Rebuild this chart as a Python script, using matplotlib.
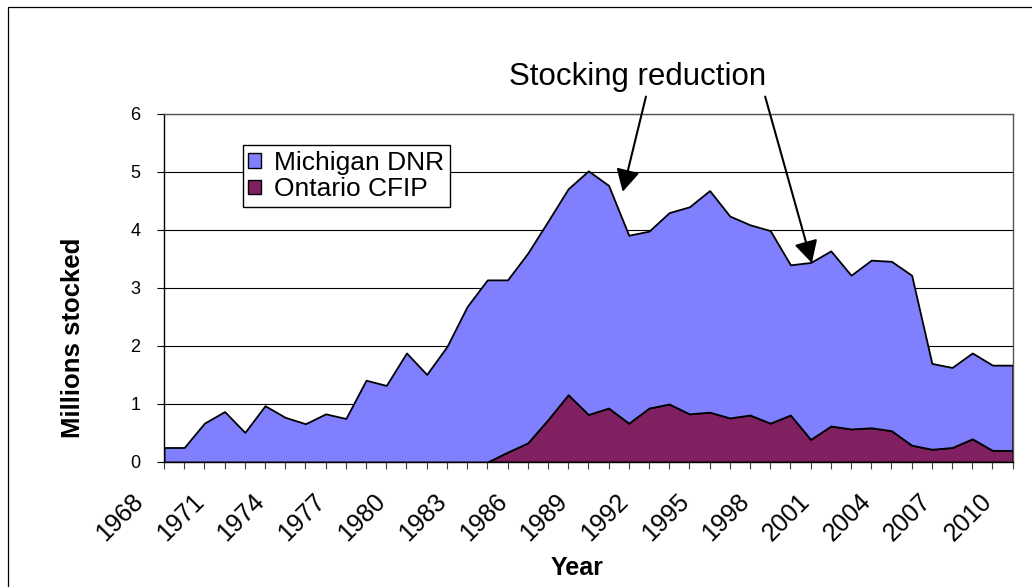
import numpy as np
import matplotlib
matplotlib.use("Agg")
import matplotlib.pyplot as plt
from matplotlib.patches import Rectangle, Patch
from matplotlib.transforms import ScaledTranslation

plt.rcParams['font.family'] = ['Liberation Sans', 'DejaVu Sans']

# ==================== data (millions stocked) ====================
years = list(range(1968, 2011))

ontario_cfip = [0.00, 0.00, 0.00, 0.00, 0.00, 0.00, 0.00, 0.00, 0.00, 0.00,
                0.00, 0.00, 0.00, 0.00, 0.00, 0.00, 0.00, 0.17, 0.33, 0.73,
                1.16, 0.82, 0.93, 0.67, 0.93, 1.00, 0.83, 0.86, 0.76, 0.81,
                0.67, 0.81, 0.39, 0.62, 0.57, 0.59, 0.54, 0.29, 0.22, 0.25,
                0.40, 0.20, 0.20]

michigan_dnr = [0.25, 0.25, 0.67, 0.87, 0.51, 0.97, 0.77, 0.66, 0.83, 0.75,
                1.41, 1.32, 1.88, 1.51, 1.99, 2.68, 3.14, 2.97, 3.27, 3.42,
                3.55, 4.20, 3.84, 3.24, 3.05, 3.30, 3.57, 3.82, 3.48, 3.28,
                3.32, 2.59, 3.05, 3.02, 2.65, 2.89, 2.92, 2.93, 1.48, 1.38,
                1.48, 1.47, 1.47]

series_names = ["Michigan DNR", "Ontario CFIP"]
yticks = [0, 1, 2, 3, 4, 5, 6]
label_years = years[::3]

c_mich = "#8080FF"
c_ont = "#802060"

# ==================== figure ====================
fig = plt.figure(figsize=(10.32, 5.87), dpi=100)
ax = fig.add_axes([164 / 1032, 1 - 462 / 587, (1012.7 - 164) / 1032, (462 - 114) / 587])

# chart area border (cut off at right and bottom)
fig.patches.append(Rectangle((8 / 1032, -0.2), 1.5, 1.2 - 7 / 587,
                             transform=fig.transFigure, fill=False,
                             edgecolor="black", linewidth=0.9, clip_on=False))

ax.set_axisbelow(True)
ax.yaxis.grid(True, color="black", linewidth=0.8)

ax.stackplot(years, ontario_cfip, michigan_dnr, colors=[c_ont, c_mich],
             edgecolor="black", linewidth=1.3)

ax.set_xlim(1968, 2010)
ax.set_ylim(0, 6)
ax.set_yticks(yticks)
ax.set_xticks(years)
ax.set_xticklabels([])

# rotated year labels, every third year
lab_tr = ax.get_xaxis_transform() + ScaledTranslation(-0.33, -0.27, fig.dpi_scale_trans)
for y in label_years:
    ax.text(y, 0, str(y), transform=lab_tr, rotation=45, rotation_mode="anchor",
            ha="right", va="top", fontsize=18)

ax.tick_params(axis="x", direction="out", length=5, width=0.8, color="#404040")
ax.tick_params(axis="y", direction="out", length=5, width=0.8, pad=12, labelsize=13)

for s in ["left", "bottom"]:
    ax.spines[s].set_color("black")
    ax.spines[s].set_linewidth(1.0)
for s in ["top", "right"]:
    ax.spines[s].set_color("#555555")
    ax.spines[s].set_linewidth(1.0)

ax.set_ylabel("Millions stocked", fontsize=18.5, fontweight="bold")
ax.yaxis.set_label_coords(-0.093, 0.356)
ax.set_xlabel("Year", fontsize=18, fontweight="bold")
ax.xaxis.set_label_coords(0.4866, -0.27)

# legend
handles = [Patch(facecolor=c_mich, edgecolor="black", linewidth=1.0),
           Patch(facecolor=c_ont, edgecolor="black", linewidth=1.0)]
leg = ax.legend(handles, series_names, loc="upper left",
                bbox_to_anchor=(0.0927, 0.911), borderaxespad=0,
                fontsize=19, handlelength=0.48, handleheight=0.48,
                handletextpad=0.5, borderpad=0.22, labelspacing=0.1,
                fancybox=False, framealpha=1, edgecolor="black")
leg.get_frame().set_linewidth(1.0)

# annotation
ax.text(1991.44, 6.64, "Stocking reduction", fontsize=22.5, ha="center", va="center")
arrow = dict(arrowstyle="-|>,head_length=0.75,head_width=0.4", color="black",
             lw=1.5, mutation_scale=18, shrinkA=0, shrinkB=0)
ax.annotate("", xy=(1990.7, 4.66), xytext=(1991.85, 6.30), arrowprops=arrow,
            annotation_clip=False)
ax.annotate("", xy=(2000.06, 3.43), xytext=(1997.75, 6.30), arrowprops=arrow,
            annotation_clip=False)

fig.savefig("out.png", dpi=100)
